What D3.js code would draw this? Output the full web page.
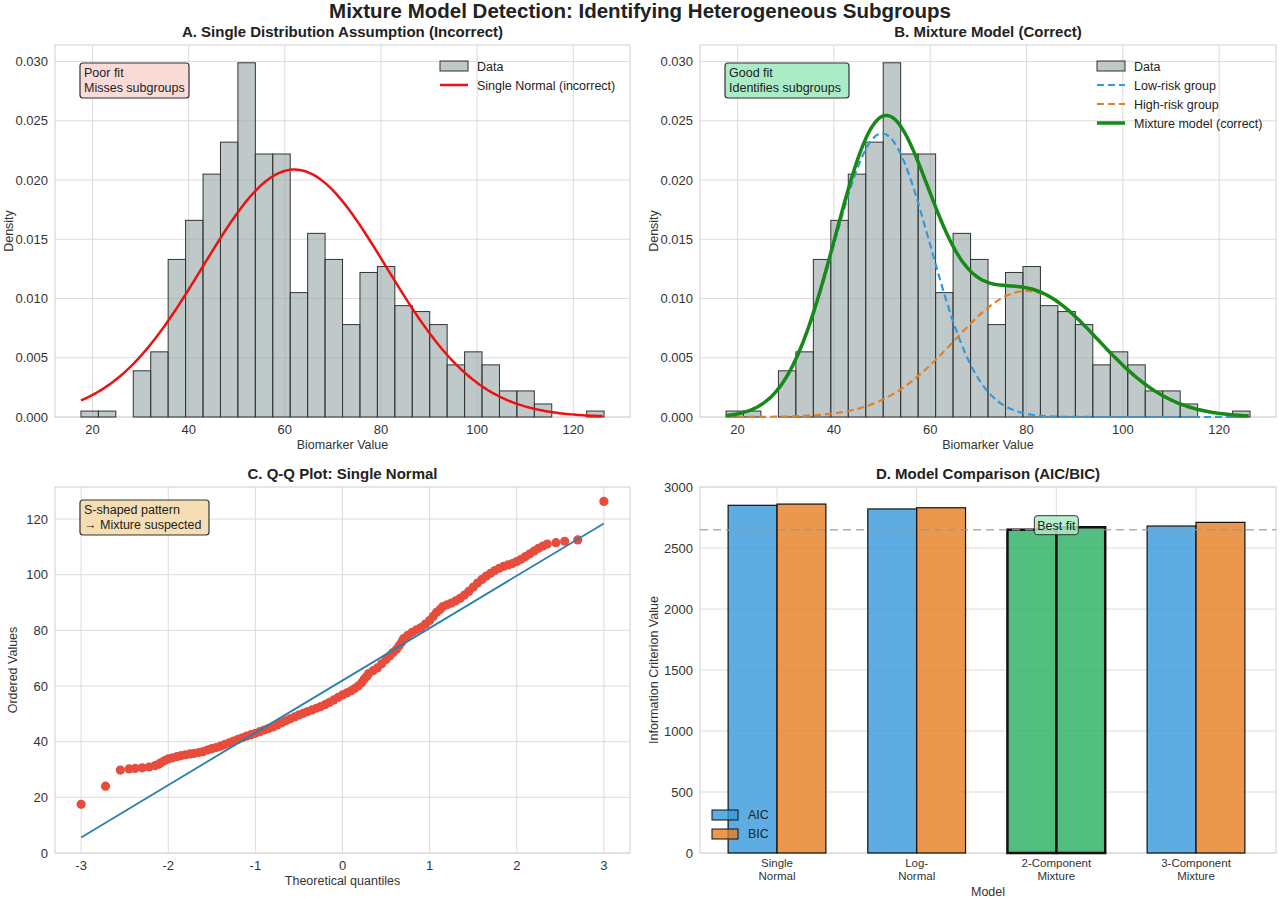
<!DOCTYPE html>
<html><head><meta charset="utf-8">
<script src="https://cdn.jsdelivr.net/npm/d3@7"></script>
<style>body{margin:0;background:#fff;font-family:"Liberation Sans",Arial,sans-serif}</style>
</head><body>
<script>
// histogram of biomarker values (30 bins)
var binStart = 17.6, binWidth = 3.627;
var densities = [0.0005,0.0005,0,0.0039,0.0055,0.0133,0.0166,0.0205,0.0232,0.0299,0.0222,0.0222,0.0105,0.0155,0.0133,
                 0.0078,0.0122,0.0127,0.0094,0.0089,0.0078,0.0044,0.0055,0.0044,0.0022,0.0022,0.0011,0,0,0.0005];
var singleFit = {mu: 62, sd: 19.1};
var lowRisk = {w: 0.6, mu: 50, sd: 10};
var highRisk = {w: 0.4, mu: 80, sd: 15};
// Q-Q plot points: [theoretical, ordered]
var qqPoints = [[-3,17.5],[-2.72,24],[-2.55,29.8],[-2.45,30.2],[-2.38,30.4],[-2.3,30.6],[-2.22,30.9],[-2.15,31.4],[-2.11,31.9],[-2.08,32.5],[-2.04,33.2],[-2,33.8],
  [-1.95,34.2],[-1.9,34.6],[-1.85,35],[-1.8,35.3],[-1.75,35.6],[-1.7,35.8],[-1.65,36.1],[-1.6,36.4],[-1.55,37],[-1.5,37.5],[-1.45,37.9],[-1.4,38.4],[-1.35,39],
  [-1.3,39.6],[-1.25,40.2],[-1.2,40.8],[-1.15,41.4],[-1.1,42],[-1.05,42.5],[-1,43],[-0.95,43.6],[-0.9,44.2],[-0.85,44.7],[-0.8,45.3],[-0.75,46],
  [-0.7,46.8],[-0.65,47.5],[-0.6,48.2],[-0.55,48.9],[-0.5,49.6],[-0.45,50.2],[-0.4,50.8],[-0.35,51.4],[-0.3,52],[-0.25,52.6],[-0.2,53.3],[-0.15,54.1],
  [-0.1,55],[-0.05,55.9],[0,56.8],[0.05,57.5],[0.1,58.3],[0.14,59.1],[0.18,60],[0.22,61.2],[0.25,62.5],[0.28,63.5],[0.3,64.5],[0.35,65.5],[0.4,66.5],
  [0.45,68],[0.5,69.5],[0.54,70.8],[0.58,72],[0.62,73.2],[0.65,74.5],[0.68,75.8],[0.7,77],[0.75,78.2],[0.8,79.3],[0.85,80.2],[0.9,81],[0.95,82.2],
  [1,83.5],[1.04,85],[1.08,86.5],[1.12,87.5],[1.15,88.5],[1.2,89.2],[1.25,89.8],[1.3,90.6],[1.35,91.5],[1.4,92.7],[1.45,94],[1.5,95.5],[1.55,97],
  [1.6,98.3],[1.65,99.5],[1.7,100.5],[1.75,101.5],[1.8,102.3],[1.85,103],[1.9,103.5],[1.95,104],[2,104.7],[2.05,105.5],[2.1,106.5],[2.15,107.5],
  [2.2,108.5],[2.25,109.5],[2.3,110.3],[2.35,111],[2.45,111.5],[2.55,112],[2.7,112.5],[3,126.3]];
var qqLine = {intercept: 62, slope: 18.8};
// model comparison
var models = ["Single\nNormal","Log-\nNormal","2-Component\nMixture","3-Component\nMixture"];
var aic = [2850, 2820, 2650, 2680];
var bic = [2860, 2830, 2670, 2710];
var bestIdx = 2;

var W = 1280, H = 899;
var svg = d3.select("body").append("svg").attr("width", W).attr("height", H)
  .style("font-family", '"Liberation Sans",Arial,sans-serif');

svg.append("text").attr("x", 640).attr("y", 18).attr("text-anchor","middle")
  .attr("font-size", 20.5).attr("font-weight","bold").attr("fill","#222")
  .text("Mixture Model Detection: Identifying Heterogeneous Subgroups");

function npdf(x, mu, sd){ return Math.exp(-0.5*((x-mu)/sd)*((x-mu)/sd))/(sd*Math.sqrt(2*Math.PI)); }

function panel(box, xs, ys, title, xlabel, ylabel, xticks, yticks, yfmt){
  var g = svg.append("g");
  g.append("rect").attr("x",box.x0).attr("y",box.y0).attr("width",box.x1-box.x0).attr("height",box.y1-box.y0)
    .attr("fill","#fff").attr("stroke","#d0d0d0");
  if (xticks) xticks.forEach(function(t){
    g.append("line").attr("x1",xs(t)).attr("x2",xs(t)).attr("y1",box.y0).attr("y2",box.y1).attr("stroke","#dcdcdc");
    g.append("text").attr("x",xs(t)).attr("y",box.y1+17).attr("text-anchor","middle").attr("font-size",13).attr("fill","#333").text(t);
  });
  yticks.forEach(function(t){
    g.append("line").attr("x1",box.x0).attr("x2",box.x1).attr("y1",ys(t)).attr("y2",ys(t)).attr("stroke","#dcdcdc");
    g.append("text").attr("x",box.x0-7).attr("y",ys(t)+4.5).attr("text-anchor","end").attr("font-size",13).attr("fill","#333").text(yfmt(t));
  });
  g.append("text").attr("x",(box.x0+box.x1)/2).attr("y",box.y0-8).attr("text-anchor","middle")
    .attr("font-size",15).attr("font-weight","bold").attr("fill","#222").text(title);
  g.append("text").attr("x",(box.x0+box.x1)/2).attr("y",box.y1+32).attr("text-anchor","middle")
    .attr("font-size",12.5).attr("fill","#333").text(xlabel);
  g.append("text").attr("transform","translate("+(box.x0-ylabel.off)+","+((box.y0+box.y1)/2)+") rotate(-90)")
    .attr("text-anchor","middle").attr("font-size",12.5).attr("fill","#333").text(ylabel.t);
  return g;
}

function note(g, x, y, lines, fill, w){
  g.append("rect").attr("x",x).attr("y",y).attr("width",w).attr("height",lines.length*15+5)
    .attr("rx",3).attr("fill",fill).attr("stroke","#333").attr("stroke-width",1.2);
  lines.forEach(function(l,i){
    g.append("text").attr("x",x+4).attr("y",y+14+i*15).attr("font-size",12.5).attr("fill","#222").text(l);
  });
}

function histPanel(box, title, ylabel){
  var xs = d3.scaleLinear().domain([12.2,131.8]).range([box.x0,box.x1]);
  var ys = d3.scaleLinear().domain([0,0.0314]).range([box.y1,box.y0]);
  var g = panel(box, xs, ys, title, "Biomarker Value", ylabel, [20,40,60,80,100,120],
    [0,0.005,0.010,0.015,0.020,0.025,0.030], d3.format(".3f"));
  g.selectAll(".bar").data(densities).enter().append("rect")
    .attr("x", function(d,i){ return xs(binStart+i*binWidth); })
    .attr("width", xs(binStart+binWidth)-xs(binStart))
    .attr("y", function(d){ return ys(d); })
    .attr("height", function(d){ return ys(0)-ys(d); })
    .attr("fill","#95a5a6").attr("fill-opacity",0.6).attr("stroke","#333").attr("stroke-width",1);
  return {g:g, xs:xs, ys:ys};
}

var xsGrid = d3.range(17.6, 126.4, 0.5);

// Panel A
var A = histPanel({x0:55,x1:630,y0:45,y1:417}, "A. Single Distribution Assumption (Incorrect)", {t:"Density",off:42});
A.g.append("path").datum(xsGrid)
  .attr("d", d3.line().x(function(d){return A.xs(d);}).y(function(d){return A.ys(npdf(d,singleFit.mu,singleFit.sd));}))
  .attr("fill","none").attr("stroke","#ee1111").attr("stroke-width",2.5);
note(A.g, 80, 63, ["Poor fit","Misses subgroups"], "#fadbd8", 109);
function legend(g, x, y, items){
  items.forEach(function(it,i){
    var yy = y + i*19;
    if (it.type==="box") g.append("rect").attr("x",x).attr("y",yy-5).attr("width",28).attr("height",10)
      .attr("fill","#95a5a6").attr("fill-opacity",0.6).attr("stroke","#333");
    else g.append("line").attr("x1",x).attr("x2",x+28).attr("y1",yy).attr("y2",yy).attr("stroke",it.color)
      .attr("stroke-width",it.w).attr("stroke-dasharray",it.dash||null);
    g.append("text").attr("x",x+37).attr("y",yy+4.5).attr("font-size",12.5).attr("fill","#222").text(it.label);
  });
}
legend(A.g, 440, 66, [{type:"box",label:"Data"},{color:"#ee1111",w:2.5,label:"Single Normal (incorrect)"}]);

// Panel B
var B = histPanel({x0:700,x1:1276,y0:45,y1:417}, "B. Mixture Model (Correct)", {t:"Density",off:42});
function curve(f, color, w, dash){
  B.g.append("path").datum(xsGrid)
    .attr("d", d3.line().x(function(d){return B.xs(d);}).y(function(d){return B.ys(f(d));}))
    .attr("fill","none").attr("stroke",color).attr("stroke-width",w).attr("stroke-dasharray",dash||null);
}
function lowF(x){ return lowRisk.w*npdf(x,lowRisk.mu,lowRisk.sd); }
function highF(x){ return highRisk.w*npdf(x,highRisk.mu,highRisk.sd); }
curve(lowF, "#3498db", 2.2, "7,4");
curve(highF, "#e67e22", 2.2, "7,4");
curve(function(x){ return lowF(x)+highF(x); }, "#168a16", 3.5);
note(B.g, 725, 63, ["Good fit","Identifies subgroups"], "#abebc6", 124);
legend(B.g, 1097, 66, [{type:"box",label:"Data"},{color:"#3498db",w:2.2,dash:"7,4",label:"Low-risk group"},
  {color:"#e67e22",w:2.2,dash:"7,4",label:"High-risk group"},{color:"#168a16",w:3.5,label:"Mixture model (correct)"}]);

// Panel C
(function(){
  var box = {x0:55,x1:630,y0:487,y1:853};
  var xs = d3.scaleLinear().domain([-3.3,3.3]).range([box.x0,box.x1]);
  var ys = d3.scaleLinear().domain([0,131.5]).range([box.y1,box.y0]);
  var g = panel(box, xs, ys, "C. Q-Q Plot: Single Normal", "Theoretical quantiles", {t:"Ordered Values",off:38},
    [-3,-2,-1,0,1,2,3], [0,20,40,60,80,100,120], d3.format("d"));
  g.selectAll(".pt").data(qqPoints).enter().append("circle")
    .attr("cx",function(d){return xs(d[0]);}).attr("cy",function(d){return ys(d[1]);}).attr("r",4.6)
    .attr("fill","#e74c3c");
  g.append("line").attr("x1",xs(-3)).attr("x2",xs(3))
    .attr("y1",ys(qqLine.intercept-3*qqLine.slope)).attr("y2",ys(qqLine.intercept+3*qqLine.slope))
    .attr("stroke","#2a7fad").attr("stroke-width",1.8);
  note(g, 80, 500, ["S-shaped pattern","\u2192 Mixture suspected"], "#f5deb3", 129);
})();

// Panel D
(function(){
  var box = {x0:700,x1:1276,y0:487,y1:853};
  var xs = d3.scaleLinear().domain([0,3]).range([777,1196]);
  var ys = d3.scaleLinear().domain([0,3000]).range([box.y1,box.y0]);
  var g = panel(box, xs, ys, "D. Model Comparison (AIC/BIC)", "", {t:"Information Criterion Value",off:42},
    null, [0,500,1000,1500,2000,2500,3000], d3.format("d"));
  g.append("text").attr("x",(box.x0+box.x1)/2).attr("y",box.y1+43).attr("text-anchor","middle")
    .attr("font-size",12.5).attr("fill","#333").text("Model");
  var bw = xs(0.35)-xs(0);
  models.forEach(function(m,i){
    g.append("line").attr("x1",xs(i)).attr("x2",xs(i)).attr("y1",box.y0).attr("y2",box.y1).attr("stroke","#dcdcdc");
    m.split("\n").forEach(function(l,j){
      g.append("text").attr("x",xs(i)).attr("y",box.y1+14+j*13).attr("text-anchor","middle")
        .attr("font-size",11.5).attr("fill","#333").text(l);
    });
  });
  function bars(vals, color, off){
    g.selectAll(null).data(vals).enter().append("rect")
      .attr("x",function(d,i){return xs(i)+(off<0?-bw:0);}).attr("width",bw)
      .attr("y",function(d){return ys(d);}).attr("height",function(d){return ys(0)-ys(d);})
      .attr("fill",function(d,i){return i===bestIdx?"#27ae60":color;}).attr("fill-opacity",0.8)
      .attr("stroke","#111").attr("stroke-width",function(d,i){return i===bestIdx?2.5:1.2;});
  }
  bars(aic, "#3498db", -1);
  bars(bic, "#e67e22", 1);
  g.append("line").attr("x1",box.x0).attr("x2",box.x1).attr("y1",ys(d3.min(aic))).attr("y2",ys(d3.min(aic)))
    .attr("stroke","#999").attr("stroke-width",1.5).attr("stroke-dasharray","8,5").attr("opacity",0.8);
  g.append("rect").attr("x",xs(bestIdx)-22).attr("y",ys(d3.min(aic))-14).attr("width",44).attr("height",19)
    .attr("rx",3).attr("fill","#abebc6").attr("fill-opacity",0.85).attr("stroke","#333");
  g.append("text").attr("x",xs(bestIdx)).attr("y",ys(d3.min(aic))).attr("text-anchor","middle")
    .attr("font-size",12.5).attr("fill","#222").text("Best fit");
  [["AIC","#3498db"],["BIC","#e67e22"]].forEach(function(it,i){
    g.append("rect").attr("x",712).attr("y",810+i*19).attr("width",26).attr("height",10)
      .attr("fill",it[1]).attr("fill-opacity",0.8).attr("stroke","#111");
    g.append("text").attr("x",748).attr("y",819+i*19).attr("font-size",12.5).attr("fill","#222").text(it[0]);
  });
})();
</script>
</body></html>
